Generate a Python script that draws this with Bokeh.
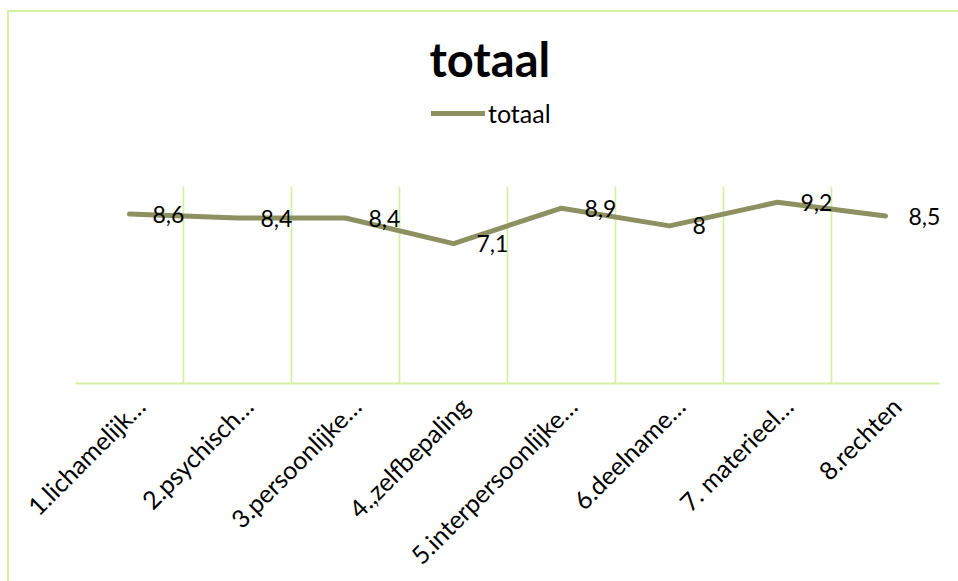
import math
from bokeh.plotting import figure
from bokeh.models import Range1d, FixedTicker, Legend, LegendItem, ColumnDataSource, BoxAnnotation
from bokeh.embed import file_html
from bokeh.resources import INLINE
from bokeh.core.properties import value

title_text = "totaal"
series_name = "totaal"
categories = ["1.lichamelijk…", "2.psychisch…", "3.persoonlijke…", "4.,zelfbepaling",
              "5.interpersoonlijke…", "6.deelname…", "7. materieel…", "8.rechten"]
values = [8.6, 8.4, 8.4, 7.1, 8.9, 8.0, 9.2, 8.5]
y_axis_max = 10

LINE = "#8d9060"
GRID = "#d4efa2"
FONT = "Lato"
LABEL_SHIFT = 0.1          # rotated category labels sit slightly right of the category centre
PLOT_H, FRAME_H = 197, 288  # data area height; frame also holds the legend strip above it

xs = [i + 0.5 for i in range(len(categories))]
labels = [f"{v:g}".replace(".", ",") for v in values]
src = ColumnDataSource(dict(x=xs, y=values, label=labels))

p = figure(frame_width=864, frame_height=FRAME_H,
           x_range=Range1d(0, len(categories)),
           y_range=Range1d(0, y_axis_max * FRAME_H / PLOT_H),
           y_axis_type=None, output_backend="svg", toolbar_location=None,
           min_border_left=66, min_border_right=19, min_border_top=83, min_border_bottom=180)
p.outline_line_color = None
p.background_fill_color = "white"
p.border_fill_color = "white"
# chart-area border (left and top edges visible in the reference)
p.styles = {"border-left": f"2px solid {GRID}", "border-top": f"2px solid {GRID}",
            "margin-left": "7px", "margin-top": "10px"}

# x axis
tick_pos = [x + LABEL_SHIFT for x in xs]
ax = p.xaxis[0]
ax.ticker = FixedTicker(ticks=tick_pos)
ax.major_label_overrides = {t: c for t, c in zip(tick_pos, categories)}
ax.major_label_orientation = math.pi / 4
ax.axis_line_color = GRID
ax.axis_line_width = 2
ax.major_tick_line_color = None
ax.minor_tick_line_color = None
ax.major_label_text_font = FONT
ax.major_label_text_font_size = "25px"
ax.major_label_text_color = "black"
ax.major_label_standoff = 12

# vertical gridlines at category boundaries (only within the 0..10 plot area)
p.xgrid.ticker = FixedTicker(ticks=list(range(len(categories) + 1)))
p.xgrid.grid_line_color = GRID
p.xgrid.grid_line_width = 1.7
p.add_layout(BoxAnnotation(bottom=y_axis_max, fill_color="white", fill_alpha=1,
                           line_alpha=0, level="underlay"))

r = p.line(x="x", y="y", source=src, line_color=LINE, line_width=5,
           line_cap="round", line_join="round")
p.text(x="x", y="y", text="label", source=src, x_offset=23, y_offset=0,
       text_align="left", text_baseline="middle", text_font=value(FONT),
       text_font_size="23px", text_color="black")

legend = Legend(items=[LegendItem(label=series_name, renderers=[r])], location=(356, 255),
                orientation="horizontal", glyph_width=54, glyph_height=26, label_standoff=3,
                padding=0, margin=0, border_line_color=None,
                background_fill_alpha=0, label_text_font=FONT, label_text_font_size="25px",
                label_text_color="black")
p.add_layout(legend)

p.title.text = title_text
p.title.text_font = FONT
p.title.text_font_style = "bold"
p.title.text_font_size = "47px"
p.title.text_color = "black"
p.title.align = "left"
p.title.offset = 354
p.title.standoff = 18

open("out.html", "w").write(file_html(p, INLINE))
